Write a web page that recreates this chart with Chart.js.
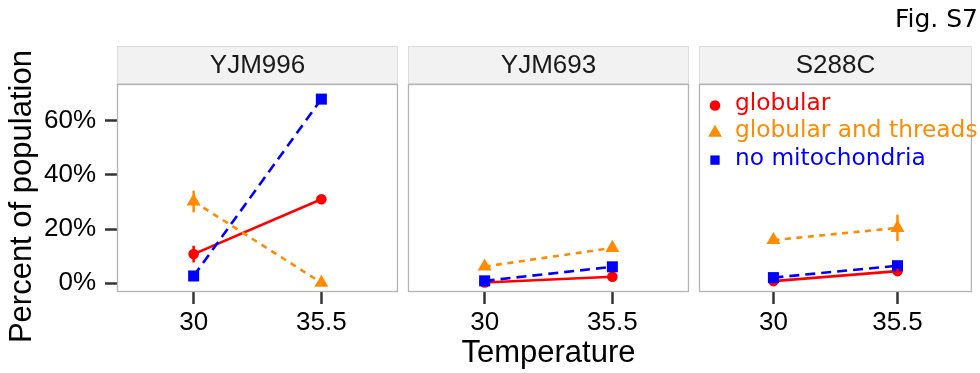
<!DOCTYPE html>
<html>
<head>
<meta charset="utf-8">
<script src="https://cdn.jsdelivr.net/npm/chart.js@4.4.1/dist/chart.umd.min.js"></script>
<style>
  html, body { margin: 0; padding: 0; background: #ffffff; width: 980px; height: 373px; overflow: hidden; }
  .cv { position: absolute; left: 0; top: 0; }
  #fig { position: absolute; right: 2px; top: 4px; font: 25px "DejaVu Sans", sans-serif; line-height: 29px; color: #000; }
</style>
</head>
<body>
<canvas id="c0" class="cv" width="980" height="373"></canvas>
<canvas id="c1" class="cv" width="980" height="373"></canvas>
<canvas id="c2" class="cv" width="980" height="373"></canvas>
<div id="fig"></div>
<script>
// ---------------- data ----------------
const strains = ['YJM996', 'YJM693', 'S288C'];
const temperatures = ['30', '35.5'];
const seriesNames = ['globular', 'globular and threads', 'no mitochondria'];
// values per strain (panel), per temperature (percent of population)
const globular       = [[10.7, 31.0], [0.2, 2.3], [0.7, 4.4]];
const globularErr    = [[3.1, 0], [0, 0], [0, 0.9]];
const globThreads    = [[30.2, 0.1], [6.1, 13.0], [15.9, 20.4]];
const globThreadsErr = [[4.0, 0], [0, 0], [0, 4.9]];
const noMito         = [[2.6, 68.1], [0.8, 6.0], [2.0, 6.4]];
const noMitoErr      = [[0, 0], [0, 0], [0, 0]];
const yTicks = [0, 20, 40, 60];
const yTitle = 'Percent of population';
const xTitle = 'Temperature';
const figLabel = 'Fig. S7';

// ---------------- styles ----------------
const seriesValues = [globular, globThreads, noMito];
const seriesErrors = [globularErr, globThreadsErr, noMitoErr];
const colors = ['#ff0000', '#ff8c00', '#0000ff'];
const shapes = ['circle', 'triangle', 'rect'];
const radii = [5.3, 8.1, 7.8];
const legendRadii = [5.3, 8.0, 6.6];
const dashes = [[], [6, 5.5], [10, 6]];
const panelLeft = [117, 408, 699];
const panelRight = [398, 689, 980];
const panelTop = 84, panelBottom = 292, stripTop = 46;
const W = 980, H = 373;
const fam = "'Liberation Sans', Arial, sans-serif";
const tickFont = { family: fam, size: 26 };

document.getElementById('fig').textContent = figLabel;
Chart.defaults.font.family = fam;
Chart.defaults.color = '#000';

const errorBars = {
  id: 'errorBars',
  afterDatasetsDraw(chart) {
    const ctx = chart.ctx, xs = chart.scales.x, ys = chart.scales.y;
    chart.data.datasets.forEach(ds => {
      ds.data.forEach((p, j) => {
        const e = ds.errors[j];
        if (!e) return;
        const x = xs.getPixelForValue(p.x);
        ctx.save();
        ctx.strokeStyle = ds.borderColor;
        ctx.lineWidth = 2.5;
        ctx.beginPath();
        ctx.moveTo(x, ys.getPixelForValue(p.y - e));
        ctx.lineTo(x, ys.getPixelForValue(p.y + e));
        ctx.stroke();
        ctx.restore();
      });
    });
  }
};

const facet = {
  id: 'facet',
  beforeDraw(chart, args, opts) {
    const { ctx, chartArea: a } = chart;
    ctx.save();
    ctx.fillStyle = '#ffffff';
    ctx.fillRect(a.left, a.top, a.width, a.height);
    ctx.fillStyle = '#f2f2f2';
    ctx.fillRect(a.left, stripTop, a.width, a.top - stripTop);
    ctx.strokeStyle = '#dcdcdc';
    ctx.lineWidth = 1;
    ctx.strokeRect(a.left + 0.5, stripTop + 0.5, a.width - 1, a.top - stripTop - 1);
    ctx.fillStyle = '#1a1a1a';
    ctx.font = "26px " + fam;
    ctx.textAlign = 'center';
    ctx.textBaseline = 'middle';
    ctx.fillText(opts.label, (a.left + a.right) / 2, (stripTop + a.top) / 2 + 1);
    ctx.restore();
  },
  afterDraw(chart) {
    const { ctx, chartArea: a } = chart;
    ctx.save();
    ctx.strokeStyle = '#b3b3b3';
    ctx.lineWidth = 1.3;
    ctx.strokeRect(a.left + 0.5, a.top + 0.5, a.width - 1, a.height - 1);
    ctx.restore();
  }
};

const insideLegend = {
  id: 'insideLegend',
  afterDraw(chart, args, opts) {
    if (!opts.show) return;
    const ctx = chart.ctx, a = chart.chartArea;
    seriesNames.forEach((name, k) => {
      const y = a.top + 20 + k * 27.3;
      ctx.save();
      ctx.fillStyle = colors[k];
      ctx.strokeStyle = colors[k];
      Chart.helpers.drawPoint(ctx, { pointStyle: shapes[k], radius: legendRadii[k], rotation: 0, borderWidth: 0 }, a.left + 16, y + 1.5);
      ctx.font = "23.3px 'DejaVu Sans', sans-serif";
      ctx.textAlign = 'left';
      ctx.textBaseline = 'middle';
      ctx.fillText(name, a.left + 36, y);
      ctx.restore();
    });
  }
};

strains.forEach((strain, i) => {
  const datasets = seriesNames.map((name, k) => ({
    label: name,
    data: seriesValues[k][i].map((v, j) => ({ x: j + 1, y: v })),
    errors: seriesErrors[k][i],
    borderColor: colors[k],
    backgroundColor: colors[k],
    borderWidth: 2.6,
    borderDash: dashes[k],
    pointStyle: shapes[k],
    pointRadius: radii[k],
    pointHoverRadius: radii[k],
    pointBorderWidth: 0,
    tension: 0,
    order: 3 - k
  }));
  new Chart(document.getElementById('c' + i), {
    type: 'line',
    data: { datasets },
    plugins: [facet, errorBars, insideLegend],
    options: {
      responsive: false,
      animation: false,
      events: [],
      layout: { padding: { left: i === 0 ? 0 : panelLeft[i], right: W - panelRight[i], top: panelTop, bottom: 0 } },
      plugins: {
        legend: { display: false },
        tooltip: { enabled: false },
        facet: { label: strain },
        insideLegend: { show: i === 2 }
      },
      scales: {
        x: {
          type: 'linear', min: 0.4, max: 2.6,
          afterBuildTicks: s => { s.ticks = temperatures.map((t, j) => ({ value: j + 1 })); },
          afterFit: s => { s.height = H - panelBottom; },
          ticks: { callback: (v, idx) => temperatures[idx], font: tickFont, color: '#000', padding: 3, maxRotation: 0, autoSkip: false },
          grid: { drawOnChartArea: false, drawTicks: true, tickLength: 12, tickWidth: 2.5, tickColor: '#333333' },
          border: { display: false },
          title: { display: i === 1, text: xTitle, font: { family: fam, size: 31 }, color: '#000', padding: { top: 0, bottom: 1 } }
        },
        y: {
          type: 'linear', min: -3.33, max: 73.7,
          display: i === 0,
          afterBuildTicks: s => { s.ticks = yTicks.map(v => ({ value: v })); },
          afterFit: s => { s.width = i === 0 ? panelLeft[0] : 0; },
          ticks: { callback: v => v + '%', font: tickFont, color: '#000', padding: 9 },
          grid: { drawOnChartArea: false, drawTicks: true, tickLength: 12, tickWidth: 2.5, tickColor: '#333333' },
          border: { display: false },
          title: { display: true, text: yTitle + '  ', font: { family: fam, size: 31 }, color: '#000', padding: { top: 4, bottom: 0 } }
        }
      }
    }
  });
});
</script>
</body>
</html>
